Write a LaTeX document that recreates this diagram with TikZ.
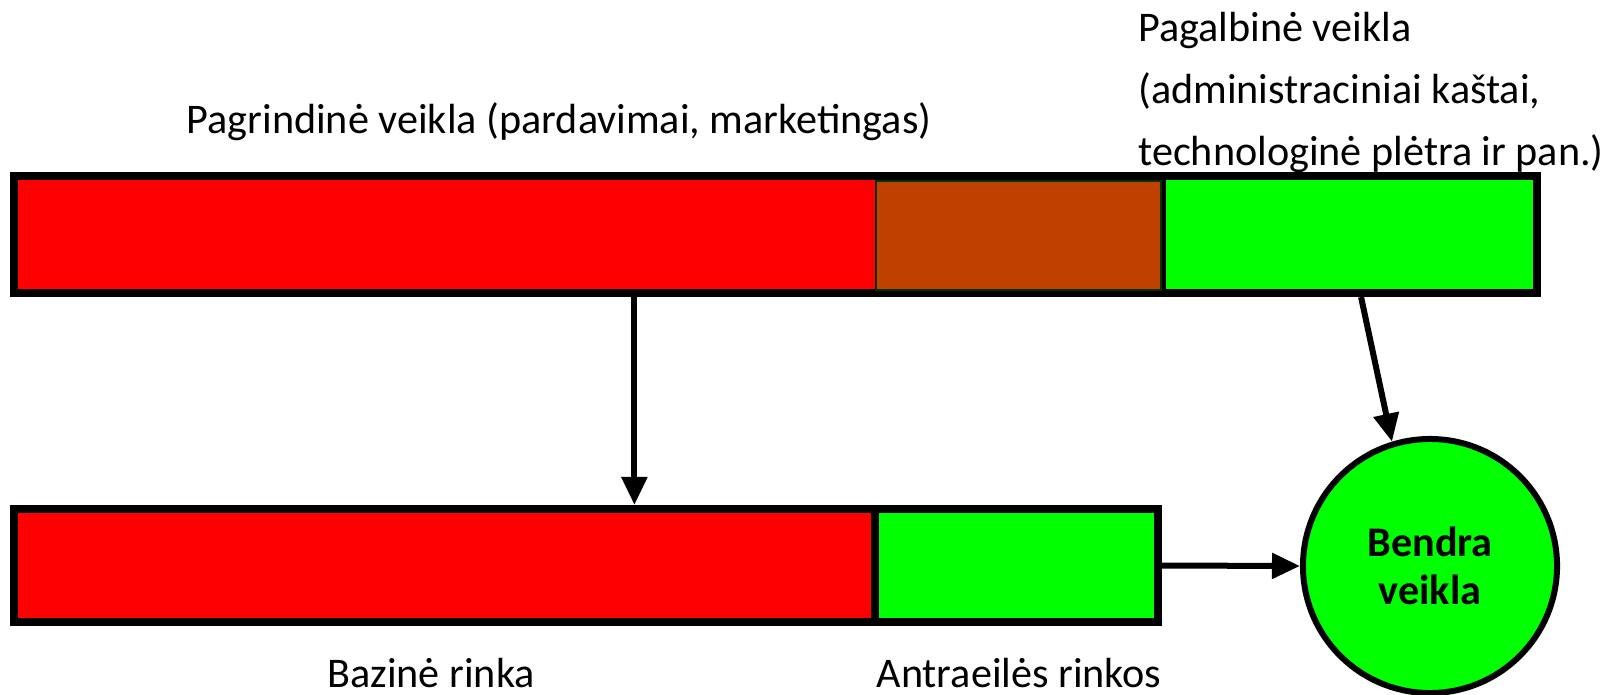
\documentclass[tikz,border=0pt]{standalone}
\usepackage{fontspec}
\setmainfont{Carlito}
\usetikzlibrary{arrows.meta,calc}
\definecolor{raudona}{RGB}{255,0,0}
\definecolor{zalia}{RGB}{0,255,0}
\definecolor{ruda}{RGB}{192,64,0}
\definecolor{tamsiaizalia}{RGB}{0,51,0}
\begin{document}
\begin{tikzpicture}[x=0.025cm, y=-0.025cm,
        bar/.style={rectangle, draw, line width=0.2cm, inner sep=0pt, anchor=north west},
        arrow/.style={-{Triangle[length=0.7cm, width=0.62cm]}, line width=0.15cm},
        txt/.style={inner sep=0pt, font=\fontsize{30}{44}\selectfont}
    ]
        \useasboundingbox (0,0) rectangle (1608,695);

        % Top bar
        \node[bar, fill=raudona, minimum width=28.7cm, minimum height=2.925cm] (topred) at (10,172) {};
        \node[bar, fill=zalia, minimum width=9.375cm, minimum height=2.925cm] (topgreen) at (1158,172) {};
        \node[bar, fill=ruda, draw=tamsiaizalia, line width=0.04cm, minimum width=7.125cm, minimum height=2.725cm] (overlap) at (875,180) {};

        % Bottom bar
        \node[bar, fill=raudona, minimum width=21.525cm, minimum height=2.825cm] (bazine) at (10,505) {};
        \node[bar, fill=zalia, minimum width=7.075cm, minimum height=2.825cm] (antra) at (871,505) {};

        % Circle
        \node[circle, draw, fill=zalia, line width=0.15cm, minimum size=6.35cm, align=center,
            font=\fontsize{30}{34}\selectfont\bfseries] (bendra) at (1430,566) {Bendra\\veikla};

        % Labels
        \node[txt, anchor=base] (pagrindine) at (559,134) {Pagrindinė veikla (pardavimai, marketingas)};
        \node[txt, anchor=north west, align=left] (pagalbine) at (1138,12) {Pagalbinė veikla\\(administraciniai kaštai,\\technologinė plėtra ir pan.)};
        \node[txt, anchor=base] (bazinetxt) at (431,687) {Bazinė rinka};
        \node[txt, anchor=base] (antratxt) at (1019,687) {Antraeilės rinkos};

        % Arrows
        \coordinate (vidurys) at ($(topred.south west)!0.54!(topred.south east)$);
        \draw[arrow] (vidurys) -- (vidurys |- bazine.north);
        \draw[arrow] ($(topgreen.south west)!0.53!(topgreen.south east)$) -- (bendra.107);
        \draw[arrow] (antra.east) -- (bendra.west);
    \end{tikzpicture}
\end{document}
